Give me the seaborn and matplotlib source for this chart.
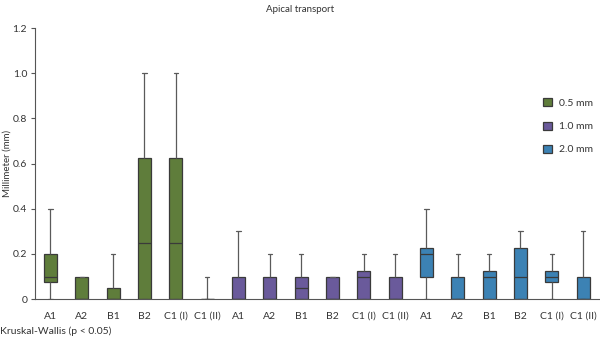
"""Apical transport — box plots per group and file size (seaborn)."""

import matplotlib.pyplot as plt
import numpy as np
import pandas as pd
import seaborn as sns

GROUPS = ["A1", "A2", "B1", "B2", "C1 (I)", "C1 (II)"]
SIZES = ["0.5 mm", "1.0 mm", "2.0 mm"]
COLORS = ["#5f7d3b", "#6a5a9b", "#3c82b4"]

# five-number summaries: [low, q1, median, q3, high]
STATS_05 = [
    [0.0, 0.075, 0.1, 0.2, 0.4],
    [0.0, 0.0, 0.0, 0.1, 0.1],
    [0.0, 0.0, 0.0, 0.05, 0.2],
    [0.0, 0.0, 0.25, 0.625, 1.0],
    [0.0, 0.0, 0.25, 0.625, 1.0],
    [0.0, 0.0, 0.0, 0.0, 0.1],
]
STATS_10 = [
    [0.0, 0.0, 0.0, 0.1, 0.3],
    [0.0, 0.0, 0.0, 0.1, 0.2],
    [0.0, 0.0, 0.05, 0.1, 0.2],
    [0.0, 0.0, 0.0, 0.1, 0.1],
    [0.0, 0.0, 0.1, 0.125, 0.2],
    [0.0, 0.0, 0.0, 0.1, 0.2],
]
STATS_20 = [
    [0.0, 0.1, 0.2, 0.225, 0.4],
    [0.0, 0.0, 0.0, 0.1, 0.2],
    [0.0, 0.0, 0.1, 0.125, 0.2],
    [0.0, 0.0, 0.1, 0.225, 0.3],
    [0.0, 0.075, 0.1, 0.125, 0.2],
    [0.0, 0.0, 0.0, 0.1, 0.3],
]

rows = []
for size, stats in zip(SIZES, [STATS_05, STATS_10, STATS_20]):
    for group, vals in zip(GROUPS, stats):
        for v in vals:
            rows.append({"key": f"{size}|{group}", "group": group, "size": size, "mm": v})
df = pd.DataFrame(rows)
order = [f"{s}|{g}" for s in SIZES for g in GROUPS]

sns.set_style("white")
plt.rcParams["font.family"] = ["Lato", "DejaVu Sans"]

fig = plt.figure(figsize=(6, 3.43), dpi=100)
ax = fig.add_axes([0.058, 0.128, 0.94, 0.79])

sns.boxplot(
    data=df, x="key", y="mm", hue="size", order=order, hue_order=SIZES,
    palette=COLORS, dodge=False, width=0.42, whis=(0, 100), saturation=1,
    linecolor="#3a3a3a", linewidth=0.9, capwidths=0.13, showfliers=False,
    whiskerprops={"color": "#5a5a5a"}, capprops={"color": "#5a5a5a"},
    ax=ax,
)

ax.set_xlim(-0.5, len(order) - 0.5)
ax.set_ylim(0, 1.2)
ax.set_yticks(np.arange(0, 1.21, 0.2))
ax.set_yticklabels(["0"] + [f"{t:.1f}" for t in np.arange(0.2, 1.21, 0.2)])
ax.set_xticks(range(len(order)))
ax.set_xticklabels([k.split("|")[1] for k in order])
ax.set_xticks(np.arange(-0.5, len(order)), minor=True)
ax.tick_params(axis="x", which="major", length=0, pad=9, labelsize=7.5, colors="#333333")
ax.tick_params(axis="x", which="minor", length=4, color="#555555", width=0.8, direction="out")
ax.tick_params(axis="y", length=3, color="#555555", width=0.8, labelsize=7.5, pad=2.5,
               colors="#333333", direction="out", left=True)
ax.set_xlabel("")
ax.set_ylabel("Millimeter (mm)", fontsize=7, color="#333333")
ax.yaxis.set_label_coords(-0.041, 0.5)
sns.despine(ax=ax)
for side in ["left", "bottom"]:
    ax.spines[side].set_color("#555555")
    ax.spines[side].set_linewidth(0.8)

ax.legend(loc="upper left", bbox_to_anchor=(0.885, 0.775), frameon=False,
          fontsize=7.5, handlelength=0.8, handleheight=0.8, labelspacing=1.3,
          handletextpad=0.7, labelcolor="#333333")

fig.text(0.5, 0.985, "Apical transport", ha="center", va="top", fontsize=7, color="#333333")
fig.text(0.0, 0.02, "Kruskal-Wallis (p < 0.05)", ha="left", va="bottom", fontsize=7.5,
         color="#333333")

fig.savefig("out.png", dpi=100)
